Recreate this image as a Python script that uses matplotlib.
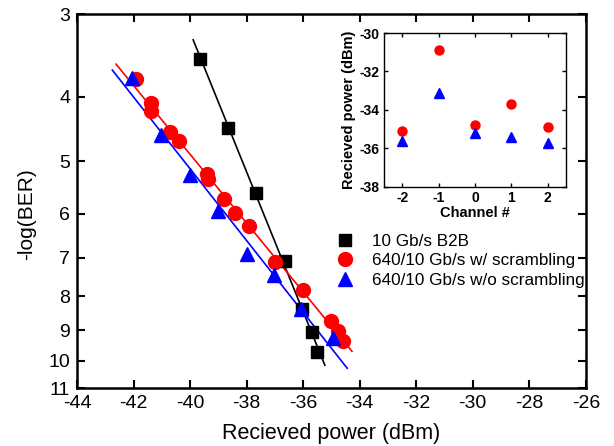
import numpy as np
import matplotlib
matplotlib.use("Agg")
import matplotlib.pyplot as plt
from matplotlib.ticker import FixedLocator, NullLocator, FixedFormatter

plt.rcParams["font.family"] = ["Liberation Sans", "DejaVu Sans"]
plt.rcParams["axes.unicode_minus"] = False

# ---- main BER curves: received power (dBm) vs -log(BER) ----
b2b_power = [-39.65, -38.65, -37.65, -36.64, -36.03, -35.68, -35.52]
b2b_ber = [3.51, 4.45, 5.58, 7.08, 8.37, 9.07, 9.70]

scr_power = [-41.91, -41.39, -41.39, -40.71, -40.38, -39.41, -39.38, -38.80,
             -38.40, -37.91, -37.00, -36.02, -35.03, -34.78, -34.58]
scr_ber = [3.76, 4.08, 4.20, 4.52, 4.67, 5.23, 5.33, 5.71,
           5.99, 6.27, 7.09, 7.83, 8.71, 9.02, 9.33]

noscr_power = [-42.07, -41.04, -40.00, -39.00, -38.00, -37.03, -36.06, -34.94]
noscr_ber = [3.75, 4.56, 5.25, 5.94, 6.91, 7.43, 8.37, 9.26]

# x-extent of the drawn fit lines
b2b_fit_range = [-39.89, -35.23]
scr_fit_range = [-42.62, -34.27]
noscr_fit_range = [-42.75, -34.44]

# ---- inset: received power per channel ----
channels = [-2, -1, 0, 1, 2]
inset_scr = [-35.1, -30.9, -34.8, -33.7, -34.9]
inset_noscr = [-35.6, -33.1, -35.2, -35.4, -35.7]

x_ticks = [-44, -42, -40, -38, -36, -34, -32, -30, -28, -26]
y_ticks = [3, 4, 5, 6, 7, 8, 9, 10, 11]


def fit_line(x, y, xr):
    # straight line in log(-log BER) space
    k, b = np.polyfit(x, np.log10(y), 1)
    xs = np.array(xr)
    return xs, 10 ** (k * xs + b)


fig = plt.figure(figsize=(6.14, 4.46), dpi=100)
ax = fig.add_axes([0.1254, 0.130, 0.8286, 0.8386])

series = [
    (b2b_power, b2b_ber, b2b_fit_range, "black", "s", 8.5, "10 Gb/s B2B"),
    (scr_power, scr_ber, scr_fit_range, "#ff0000", "o", 10, "640/10 Gb/s w/ scrambling"),
    (noscr_power, noscr_ber, noscr_fit_range, "#0000ff", "^", 10.5, "640/10 Gb/s w/o scrambling"),
]
handles = []
for x, y, xr, c, m, ms, lab in series:
    fx, fy = fit_line(x, y, xr)
    ax.plot(fx, fy, color=c, lw=1.2, zorder=2)
    h, = ax.plot(x, y, ls="none", marker=m, ms=ms, color=c, mec=c, label=lab, zorder=3)
    handles.append(h)

ax.set_yscale("log")
ax.set_ylim(11, 3)
ax.yaxis.set_major_locator(FixedLocator(y_ticks))
ax.yaxis.set_major_formatter(FixedFormatter([str(t) for t in y_ticks]))
ax.yaxis.set_minor_locator(NullLocator())
ax.set_xlim(-44, -26)
ax.set_xticks(x_ticks)
ax.tick_params(direction="in", length=6, width=1.5, top=True, right=True,
               labelsize=14, pad=5)
for s in ax.spines.values():
    s.set_linewidth(1.8)
ax.set_xlabel("Recieved power (dBm)", fontsize=15.5, labelpad=8)
ax.set_ylabel("-log(BER)", fontsize=15, labelpad=9)
ax.yaxis.label.set_y(0.465)

ax.legend(handles=handles, loc="upper left", bbox_to_anchor=(0.493, 0.431),
          frameon=False, fontsize=12.3, handletextpad=0.98, labelspacing=0.28,
          handlelength=1.2, borderaxespad=0)

# ---- inset ----
ins = fig.add_axes([0.6254, 0.581, 0.2964, 0.345])
ins.plot(channels, inset_scr, ls="none", marker="o", ms=6.5, color="#ff0000")
ins.plot(channels, inset_noscr, ls="none", marker="^", ms=7.5, color="#0000ff")
ins.set_xlim(-2.5, 2.5)
ins.set_ylim(-38, -30)
ins.set_xticks(channels)
ins.set_yticks([-38, -36, -34, -32, -30])
ins.tick_params(direction="in", length=3, width=1, top=True, right=True,
                labelsize=10, pad=3)
for lbl in ins.get_xticklabels() + ins.get_yticklabels():
    lbl.set_fontweight("bold")
for s in ins.spines.values():
    s.set_linewidth(1)
ins.set_xlabel("Channel #", fontsize=10.5, fontweight="bold", labelpad=1)
ins.set_ylabel("Recieved power (dBm)", fontsize=10.5, fontweight="bold", labelpad=3)

fig.savefig("out.png", dpi=100)
